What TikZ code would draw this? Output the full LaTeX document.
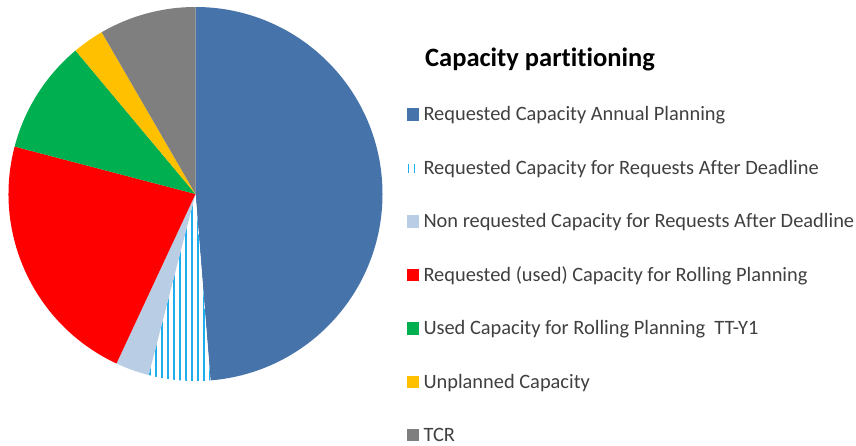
\documentclass[tikz,border=0pt]{standalone}
\usepackage{fontspec}
\setmainfont[Ligatures=NoCommon]{Carlito}
\definecolor{cblue}{HTML}{4673A9}
\definecolor{chatch}{HTML}{1CAEEE}
\definecolor{clight}{HTML}{B9CDE5}
\definecolor{cred}{HTML}{FF0000}
\definecolor{cgreen}{HTML}{00B050}
\definecolor{cyellow}{HTML}{FFC000}
\definecolor{cgray}{HTML}{7F7F7F}
\definecolor{ctext}{HTML}{404040}
\newcommand\pieslice[3]{\fill[#3] (c) -- ++(#1:187) arc[start angle=#1, end angle=#2, radius=187] -- cycle;}
\begin{document}
\begin{tikzpicture}[x=1pt,y=-1pt,
  legtext/.style={anchor=base west, inner sep=0pt, text=ctext, font=\fontsize{20.4}{24}\selectfont},
  legbox/.style={minimum size=12.5pt, inner sep=0pt, outer sep=0pt},
  hatchline/.style={draw=chatch, line width=1.9pt},
  titletext/.style={anchor=base west, inner sep=0pt, font=\bfseries\fontsize{26.5}{30}\selectfont}]
\useasboundingbox (0,0) rectangle (856,446);
\fill[white] (0,0) rectangle (856,446);
\coordinate (c) at (195.5,194);
% pie slices (angles measured clockwise on screen, 0 = right)
\pieslice{-90}{85.4}{cblue}
\pieslice{85.4}{104.5}{white}
\begin{scope}
  \clip (c) -- ++(85.4:187) arc[start angle=85.4, end angle=104.5, radius=187] -- cycle;
  \foreach \xx in {138.3,144.3,...,216.3} {\draw[hatchline] (\xx,180) -- (\xx,400);}
\end{scope}
\pieslice{104.5}{115}{clight}
\pieslice{115}{194.7}{cred}
\pieslice{194.7}{230.1}{cgreen}
\pieslice{230.1}{239.9}{cyellow}
\pieslice{239.9}{270}{cgray}
% title
\node[titletext] (title) at (425,66.5) {Capacity partitioning};
% legend
\node[legbox, fill=cblue] (s1) at (413,114.5) {};
\node[legtext] (t1) at (423.3,121) {Requested Capacity Annual Planning};
\node[legbox] (s2) at (413,168.2) {};
\draw[hatchline] ([xshift=-4.5pt,yshift=-4.5pt]s2.center) -- ([xshift=-4.5pt,yshift=4.5pt]s2.center);
\draw[hatchline] ([xshift=1.5pt,yshift=-4.5pt]s2.center) -- ([xshift=1.5pt,yshift=4.5pt]s2.center);
\node[legtext] (t2) at (423.3,174.4) {Requested Capacity for Requests After Deadline};
\node[legbox, fill=clight] (s3) at (413,221.6) {};
\node[legtext] (t3) at (423.3,227.8) {Non requested Capacity for Requests After Deadline};
\node[legbox, fill=cred] (s4) at (413,275) {};
\node[legtext] (t4) at (423.3,281.2) {Requested (used) Capacity for Rolling Planning};
\node[legbox, fill=cgreen] (s5) at (413,328.4) {};
\node[legtext] (t5) at (423.3,334.6) {Used Capacity for Rolling Planning\ \ TT-Y1};
\node[legbox, fill=cyellow] (s6) at (413,381.8) {};
\node[legtext] (t6) at (423.3,388) {Unplanned Capacity};
\node[legbox, fill=cgray] (s7) at (413,435.2) {};
\node[legtext] (t7) at (423.3,441.4) {TCR};
\end{tikzpicture}
\end{document}
